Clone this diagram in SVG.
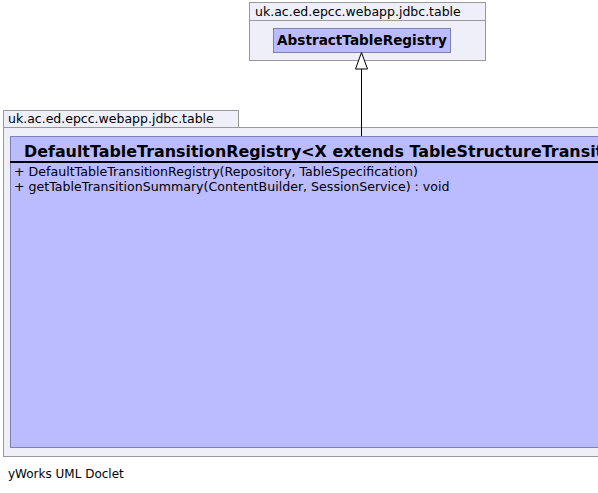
<svg xmlns="http://www.w3.org/2000/svg" width="598" height="493" viewBox="0 0 598 493">
<style>
.pkg{fill:#efeffa;stroke:#999999;stroke-width:1}
.cls{fill:#bbbbff;stroke:#7f7fb0;stroke-width:1}
.t{font-family:"DejaVu Sans",sans-serif;fill:#000}
.lbl{font-size:12.5px}
.mem{font-size:12.6px}
.b{font-weight:bold}
</style>
<rect width="598" height="493" fill="#ffffff"/>
<g id="pkg-top">
<rect class="pkg" x="249.5" y="2.5" width="236" height="18"/>
<rect class="pkg" x="249.5" y="20.5" width="236" height="40"/>
<text class="t lbl" x="255" y="16">uk.ac.ed.epcc.webapp.jdbc.table</text>
</g>
<g id="node-abstract">
<rect class="cls" x="273.5" y="28.5" width="177" height="24"/>
<text class="t b" x="362" y="45" text-anchor="middle" font-size="13.6">AbstractTableRegistry</text>
</g>
<g id="pkg-bottom">
<rect class="pkg" x="3.5" y="110.5" width="235" height="17"/>
<rect class="pkg" x="3.5" y="127.5" width="600" height="329"/>
<text class="t lbl" x="8" y="123">uk.ac.ed.epcc.webapp.jdbc.table</text>
</g>
<g id="node-default">
<rect class="cls" x="10.5" y="136.5" width="600" height="311"/>
<text class="t b" x="24" y="157" font-size="15.9">DefaultTableTransitionRegistry&lt;X extends TableStructureTransitionTarget&gt;</text>
<line x1="10" y1="162" x2="598" y2="162" stroke="#000" stroke-width="2"/>
<text class="t mem" x="14" y="176">+  DefaultTableTransitionRegistry(Repository, TableSpecification)</text>
<text class="t mem" x="14" y="191">+  getTableTransitionSummary(ContentBuilder, SessionService) : void</text>
</g>
<g id="connectors">
<line x1="361.5" y1="69" x2="361.5" y2="136" stroke="#000" stroke-width="1"/>
<polygon points="361.5,52.5 355.5,69 367.5,69" fill="#ffffff" stroke="#000" stroke-width="1"/>
</g>
<text class="t" x="8" y="478" font-size="12">yWorks UML Doclet</text>
</svg>
